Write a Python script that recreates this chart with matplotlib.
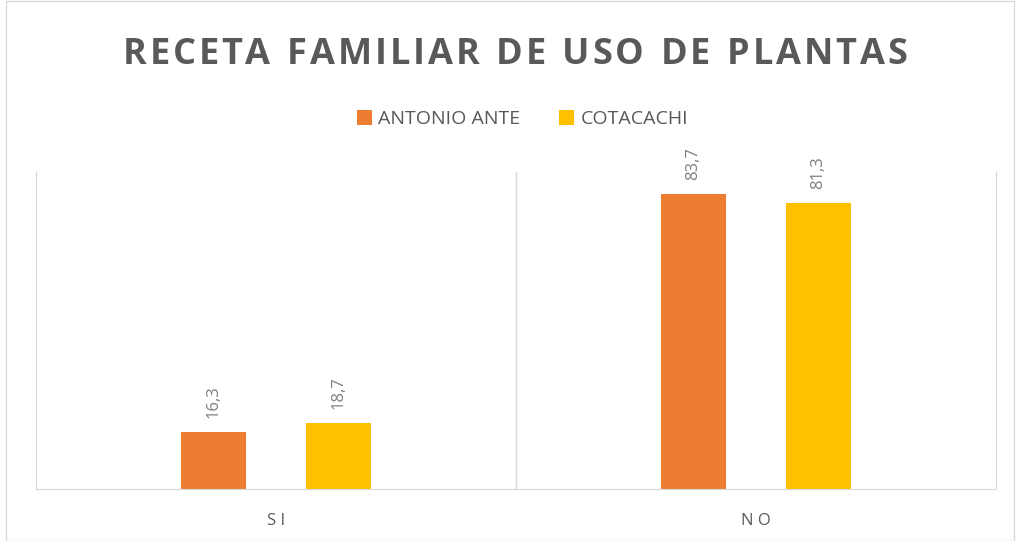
import matplotlib.pyplot as plt
import numpy as np

categories = ['S I', 'N O']
series = ['ANTONIO ANTE', 'COTACACHI']
antonio_ante = [16.3, 83.7]
cotacachi = [18.7, 81.3]
colors = ['#ED7D31', '#FFC000']
title = 'RECETA FAMILIAR DE USO DE PLANTAS'

fig = plt.figure(figsize=(10.18, 5.41), dpi=100)
ax = fig.add_axes([36/1018, 52/541, 960/1018, 317/541])

x = np.arange(len(categories))
w = 0.136
off = 0.13
for vals, name, c, d in zip([antonio_ante, cotacachi], series, colors, [-off, off]):
    bars = ax.bar(x + d, vals, w, color=c, label=name)
    for b, v in zip(bars, vals):
        ax.annotate(f'{v:.1f}'.replace('.', ','),
                    (b.get_x() + b.get_width()/2, b.get_height()),
                    xytext=(0, 10), textcoords='offset points',
                    rotation=90, ha='center', va='bottom',
                    fontsize=12, color='#7f7f7f', family='Open Sans')

ax.set_xlim(-0.5, 1.5)
ax.set_ylim(0, 90)
ax.axvline(0.5, color='#d9d9d9', lw=1)
ax.spines['top'].set_visible(False)
for s in ['left', 'right', 'bottom']:
    ax.spines[s].set_color('#d9d9d9')
ax.set_yticks([])
ax.set_xticks(x)
ax.set_xticklabels(categories, fontsize=12, color='#595959', family='Open Sans')
ax.tick_params(axis='x', length=0, pad=17)

# title with letter spacing, drawn char by char
renderer = fig.canvas.get_renderer()
tprops = dict(fontsize=26, fontweight='bold', color='#595959', family='Open Sans', va='center')
spacing = 2.9
widths = []
for ch in title:
    t = fig.text(0, 0, ch if ch != ' ' else 'n', **tprops)
    bb = t.get_window_extent(renderer)
    widths.append(bb.width * (0.45 if ch == ' ' else 1.0))
    t.remove()
total = sum(widths) + spacing * (len(title) - 1)
xpos = 515 - total / 2
for ch, wd in zip(title, widths):
    if ch != ' ':
        fig.text(xpos / 1018, 1 - 55 / 541, ch, **tprops)
    xpos += wd + spacing

fig.legend(loc='center', bbox_to_anchor=(0.513, 0.78), ncol=2, frameon=False,
           prop={'family': 'Open Sans', 'size': 14}, labelcolor='#595959',
           handlelength=0.8, handleheight=0.8, handletextpad=0.3, columnspacing=2.0)

# outer border
fig.patches.append(plt.Rectangle((0.006, 0.0), 0.99, 0.998, transform=fig.transFigure,
                                 fill=False, edgecolor='#d9d9d9', lw=1))

fig.savefig('out.png', dpi=100)
